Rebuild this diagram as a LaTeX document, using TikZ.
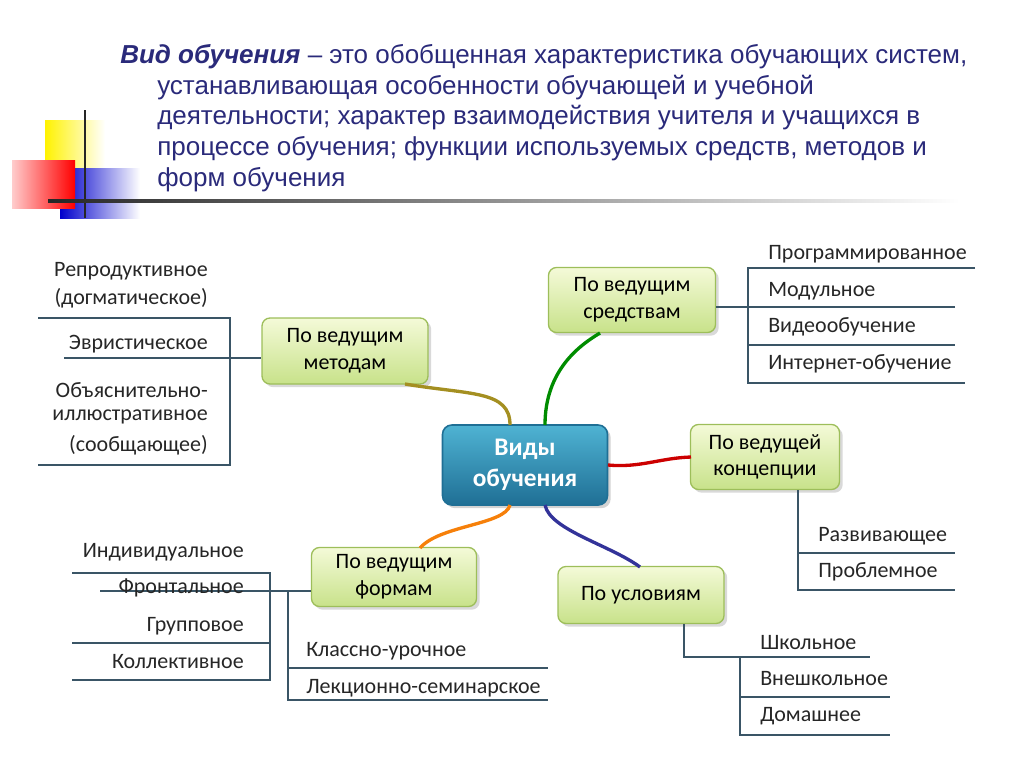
\documentclass[tikz,border=0pt]{standalone}
\usepackage{fontspec}
\setmainfont{Carlito}
\newfontfamily\ttlfont{Liberation Sans}
\usetikzlibrary{shadows}
\definecolor{ttl}{HTML}{2A2A7A}
\definecolor{ln}{HTML}{3A5566}
\definecolor{gtop}{HTML}{F4FAD8}
\definecolor{gbot}{HTML}{C8E28A}
\definecolor{gbd}{HTML}{9DBE5A}
\definecolor{ctop}{HTML}{4FB3D3}
\definecolor{cbot}{HTML}{1F6F95}
\begin{document}
\begin{tikzpicture}[x=0.75pt,y=-0.75pt,
  gbox/.style={draw=gbd,line width=1pt,rounded corners=6pt,top color=gtop,bottom color=gbot,
     align=center,font=\fontsize{16.5}{20}\selectfont,inner sep=0pt,drop shadow={opacity=0.3}},
  lbl/.style={font=\fontsize{16.5}{18}\selectfont,inner sep=0pt,text=black!85},
  br/.style={draw=ln,line width=1.6pt},
  ttxt/.style={font=\ttlfont\fontsize{19.5}{22}\selectfont,text=ttl,anchor=west,inner sep=0pt}]
\useasboundingbox (0,0) rectangle (1024,767);
% decoration
\fill[left color=yellow!90!orange,right color=white] (45,120) rectangle (105,170);
\fill[left color=blue!80!black,right color=white] (60,168) rectangle (140,218);
\fill[left color=red!20,right color=red] (12,160) rectangle (75,208);
\draw[line width=2pt,black!85] (85,110) -- (85,218);
\fill[left color=black!85,right color=white] (48,199) rectangle (960,202);
% title
\node[ttxt] (t1) at (120,57) {\textbf{\textit{Вид обучения}} – это обобщенная характеристика обучающих систем,};
\node[ttxt] (t2) at (157,88) {устанавливающая особенности обучающей и учебной};
\node[ttxt] (t3) at (157,118) {деятельности; характер взаимодействия учителя и учащихся в};
\node[ttxt] (t4) at (157,149) {процессе обучения; функции используемых средств, методов и};
\node[ttxt] (t5) at (157,180) {форм обучения};
% central
\node[draw=cbot,line width=1.2pt,rounded corners=7pt,top color=ctop,bottom color=cbot,
  minimum width=165*0.75pt,minimum height=80*0.75pt,align=center,text=white,
  font=\fontsize{19}{23}\selectfont\bfseries,drop shadow={opacity=0.35}] (c) at (525,465) {Виды\\обучения};
\node[gbox,minimum width=166*0.75pt,minimum height=66*0.75pt] (m) at (345,351) {По ведущим\\методам};
\node[gbox,minimum width=167*0.75pt,minimum height=65*0.75pt] (s) at (632,300) {По ведущим\\средствам};
\node[gbox,minimum width=149*0.75pt,minimum height=65*0.75pt] (k) at (765,457) {По ведущей\\концепции};
\node[gbox,minimum width=165*0.75pt,minimum height=59*0.75pt] (f) at (394,577) {По ведущим\\формам};
\node[gbox,minimum width=166*0.75pt,minimum height=57*0.75pt] (u) at (641,595) {По условиям};
% connectors
\draw[line width=2.5pt,olive!60!brown] (405,384) .. controls (470,395) and (510,390) .. (510,425);
\draw[line width=2.5pt,green!55!black] (545,425) .. controls (545,370) and (580,345) .. (600,333);
\draw[line width=2.5pt,red!80!black] (608,465) .. controls (640,468) and (660,458) .. (691,457);
\draw[line width=2.5pt,orange!85!brown] (510,505) .. controls (505,525) and (440,525) .. (420,548);
\draw[line width=2.5pt,blue!50!black!80] (545,505) .. controls (550,530) and (610,545) .. (640,567);
% methods bracket
\draw[br] (38,318) -- (230,318) -- (230,465) -- (38,465);
\draw[br] (64,358) -- (64,358 -| m.west);
\node[lbl,anchor=east] (m1) at (208,271) {Репродуктивное};
\node[lbl,anchor=east] (m1b) at (208,298) {(догматическое)};
\node[lbl,anchor=east] (m2) at (208,344) {Эвристическое};
\node[lbl,anchor=east] (m3) at (208,390) {Объяснительно-};
\node[lbl,anchor=east] (m3b) at (208,417) {иллюстративное};
\node[lbl,anchor=east] (m3c) at (208,445) {(сообщающее)};
% means bracket
\draw[br] (975,268) -- (748,268) -- (748,383) -- (965,383);
\draw[br] (955,307) -- (955,307 -| s.east);
\draw[br] (748,345) -- (955,345);
\node[lbl,anchor=west] (s1) at (768,254) {Программированное};
\node[lbl,anchor=west] (s2) at (768,291) {Модульное};
\node[lbl,anchor=west] (s3) at (768,327) {Видеообучение};
\node[lbl,anchor=west] (s4) at (768,364) {Интернет-обучение};
% concept
\draw[br] (k.south -| 798,0) -- (798,590) -- (955,590);
\draw[br] (798,553) -- (955,553);
\node[lbl,anchor=west] (k1) at (818,536) {Развивающее};
\node[lbl,anchor=west] (k2) at (818,572) {Проблемное};
% forms
\draw[br] (72,573) -- (270,573) -- (270,680) -- (72,680);
\draw[br] (100,591) -- (100,591 -| f.west);
\draw[br] (72,643) -- (270,643);
\draw[br] (288,591) -- (288,700) -- (548,700);
\draw[br] (288,668) -- (548,668);
\node[lbl,anchor=east] (f1) at (244,552) {Индивидуальное};
\node[lbl,anchor=east] (f2) at (244,588) {Фронтальное};
\node[lbl,anchor=east] (f3) at (244,626) {Групповое};
\node[lbl,anchor=east] (f4) at (244,662) {Коллективное};
\node[lbl,anchor=west] (f5) at (306,651) {Классно-урочное};
\node[lbl,anchor=west] (f6) at (306,688) {Лекционно-семинарское};
% conditions
\draw[br] (u.south -| 684,0) -- (684,657) -- (870,657);
\draw[br] (740,657) -- (740,735) -- (890,735);
\draw[br] (740,697) -- (890,697);
\node[lbl,anchor=west] (u1) at (760,643) {Школьное};
\node[lbl,anchor=west] (u2) at (760,679) {Внешкольное};
\node[lbl,anchor=west] (u3) at (760,716) {Домашнее};
\end{tikzpicture}
\end{document}
